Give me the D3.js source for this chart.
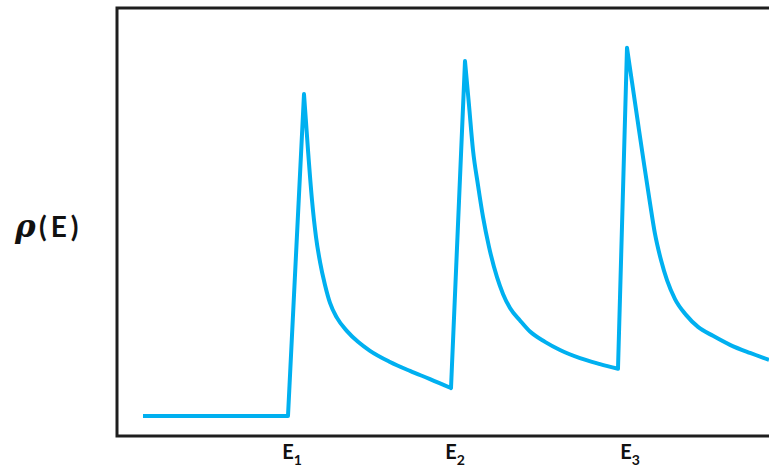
<!DOCTYPE html>
<html>
<head>
<meta charset="utf-8">
<script src="https://cdn.jsdelivr.net/npm/d3@7"></script>
<style>
  html, body { margin: 0; padding: 0; background: #fff; }
  svg { display: block; }
</style>
</head>
<body>
<svg id="chart" width="769" height="471"></svg>
<script>
// Energy (arbitrary units) and density of states rho(E) (arbitrary units)
const energy = [26, 171, 187, 191, 195, 199, 203, 208, 213, 220, 230, 241, 253, 273, 293, 313, 334,
                348, 352, 356, 361, 366, 372, 380, 386, 393, 403, 413, 428, 443, 463, 483, 501,
                510, 515, 521, 527, 533, 538, 544, 550, 558, 569, 581, 596, 613, 633, 652];
const rho = [4.7, 4.7, 79.9, 66.8, 55.1, 46.5, 40.7, 35.3, 31.1, 27.6, 24.5, 22.0, 19.9, 17.3, 15.2, 13.3, 11.2,
             87.6, 77.3, 66.8, 58.6, 51.2, 44.2, 37.1, 33.2, 29.9, 27.0, 24.4, 22.0, 20.1, 18.2, 16.8, 15.7,
             90.7, 82.7, 73.1, 63.6, 54.4, 47.2, 41.1, 36.4, 32.0, 28.3, 25.5, 23.4, 21.3, 19.4, 17.8];
// index ranges of the three smooth decays (peak -> next onset)
const decaySegments = [[2, 16], [17, 32], [33, 47]];
const tickPositions = [175, 338, 513];
const tickNames = ["1", "2", "3"];

(function () {
const svg = d3.select("#chart");
const mLeft = 117, mRight = 769, mTop = 8, mBottom = 436;

const x = d3.scaleLinear().domain([0, 652]).range([mLeft, mRight]);
const y = d3.scaleLinear().domain([0, 100]).range([mBottom, mTop]);

// Frame (left, top, bottom)
svg.append("path")
  .attr("d", d3.line()([[mRight + 2, y(100)], [x(0), y(100)], [x(0), y(0)], [mRight + 2, y(0)]]))
  .attr("fill", "none")
  .attr("stroke", "#1e1e1e")
  .attr("stroke-width", 3)
  .attr("stroke-linejoin", "miter");

// Curve: straight onsets, smooth decays
const pts = energy.map((e, i) => [e, rho[i]]);
const lineLin = d3.line().x(d => x(d[0])).y(d => y(d[1])).curve(d3.curveLinear);
const lineSmooth = d3.line().x(d => x(d[0])).y(d => y(d[1])).curve(d3.curveMonotoneX);
let d = lineLin(pts.slice(0, decaySegments[0][0] + 1));
decaySegments.forEach(([s, e], k) => {
  if (k > 0) d += "L" + x(pts[s][0]) + "," + y(pts[s][1]);
  d += lineSmooth(pts.slice(s, e + 1)).replace(/^M/, "L");
});
svg.append("path")
  .attr("fill", "none")
  .attr("stroke", "#00B0F0")
  .attr("stroke-width", 4)
  .attr("stroke-linejoin", "round")
  .attr("stroke-linecap", "butt")
  .attr("d", d);

// Tick labels E1, E2, E3
const ticks = svg.append("g")
  .attr("font-family", "Lato, 'Open Sans', sans-serif")
  .attr("font-weight", "bold")
  .attr("fill", "#111");
tickPositions.forEach((p, i) => {
  const t = ticks.append("text")
    .attr("x", x(p))
    .attr("y", 459)
    .attr("text-anchor", "middle")
    .attr("font-size", 20);
  t.append("tspan").text("E");
  t.append("tspan").attr("font-size", 14).attr("dy", 6).text(tickNames[i]);
});

// Y-axis label rho(E)
svg.append("text")
  .attr("x", 15)
  .attr("y", 237)
  .attr("font-family", "'DejaVu Serif', serif")
  .attr("font-style", "italic")
  .attr("font-weight", "bold")
  .attr("font-size", 31)
  .attr("fill", "#111")
  .text("ρ");
svg.append("text")
  .attr("x", 39)
  .attr("y", 237)
  .attr("font-family", "Lato, 'Open Sans', sans-serif")
  .attr("font-weight", "bold")
  .attr("font-size", 28)
  .attr("letter-spacing", 4)
  .attr("fill", "#111")
  .text("(E)");
})();
</script>
</body>
</html>
